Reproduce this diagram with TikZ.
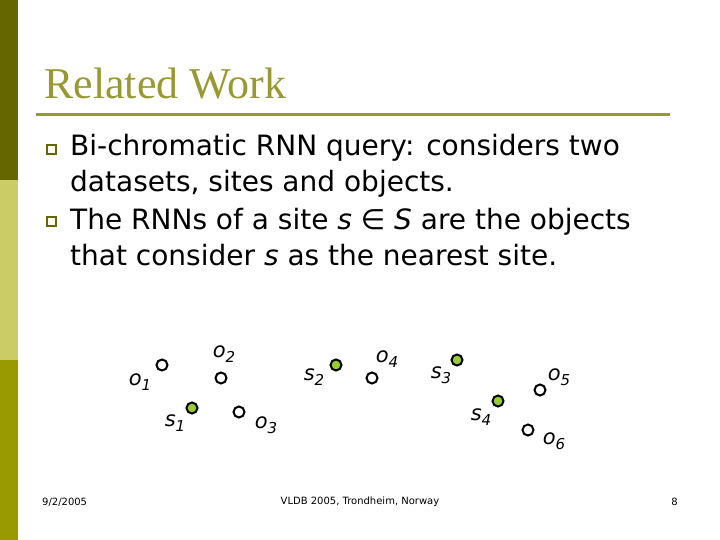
\documentclass[tikz,border=0pt]{standalone}
\usepackage{fontspec}
\setmainfont{DejaVu Sans}
\newfontfamily\titlefont{Liberation Serif}
\usepackage{tikz}

\definecolor{barDark}{HTML}{666600}
\definecolor{barLight}{HTML}{CCCC66}
\definecolor{barMid}{HTML}{999900}
\definecolor{titleCol}{HTML}{999933}
\definecolor{siteCol}{HTML}{99CC33}

\newcommand{\lsub}[1]{\raisebox{-0.4ex}{\fontsize{15}{15}\selectfont #1}}

\tikzset{
  obj/.style={draw, circle, line width=2pt, fill=white, minimum size=11pt, inner sep=0pt},
  site/.style={obj, fill=siteCol},
  lbl/.style={font=\fontsize{21}{21}\selectfont\itshape, inner sep=0pt},
  bullet/.style={draw=barDark, line width=2pt, minimum size=9pt, inner sep=0pt},
  body/.style={anchor=base west, align=left, inner sep=0pt, font=\fontsize{28}{36}\selectfont},
  foot/.style={font=\fontsize{10}{10}\selectfont, inner sep=0pt}
}

\begin{document}
\begin{tikzpicture}[x=1pt, y=-1pt]
\useasboundingbox (0,0) rectangle (720,540);

% 左侧色条
\fill[barDark] (0,0) rectangle (18,180);
\fill[barLight] (0,180) rectangle (18,360);
\fill[barMid] (0,360) rectangle (18,540);

% 标题
\node[anchor=base west, inner sep=0pt, text=titleCol, font=\titlefont\fontsize{44}{44}\selectfont] (title) at (44,99) {Related Work};
\draw[titleCol, line width=3pt] (36,115) -- (670,115);

% 正文
\node[bullet] (b1) at (51,149.5) {};
\node[bullet] (b2) at (51,221.5) {};
\node[body] (t1) at (70,192) {Bi-chromatic RNN query: considers two\\datasets, sites and objects.};
\node[body] (t2) at (70,265.5) {The RNNs of a site \textit{s} ∈ \textit{S} are the objects\\that consider \textit{s} as the nearest site.};

% 定义节点
\node[obj] (o1) at (162,365) {};
\node[obj] (o2) at (221,378) {};
\node[site] (s1) at (192,408) {};
\node[obj] (o3) at (239,412) {};
\node[site] (s2) at (336,365) {};
\node[obj] (o4) at (372,378) {};
\node[site] (s3) at (457,360) {};
\node[site] (s4) at (498,401) {};
\node[obj] (o5) at (540,390) {};
\node[obj] (o6) at (528,430) {};

% 标签
\node[lbl] (lo1) at (140,382) {o\lsub{1}};
\node[lbl] (lo2) at (224,354) {o\lsub{2}};
\node[lbl] (ls1) at (175,423) {s\lsub{1}};
\node[lbl] (lo3) at (266,425) {o\lsub{3}};
\node[lbl] (ls2) at (314,377) {s\lsub{2}};
\node[lbl] (lo4) at (387,359) {o\lsub{4}};
\node[lbl] (ls3) at (441,375) {s\lsub{3}};
\node[lbl] (ls4) at (481,417) {s\lsub{4}};
\node[lbl] (lo5) at (559,377) {o\lsub{5}};
\node[lbl] (lo6) at (554,441) {o\lsub{6}};

% 页脚
\node[foot, anchor=west] (date) at (42,502) {9/2/2005};
\node[foot] (conf) at (360,502) {VLDB 2005, Trondheim, Norway};
\node[foot, anchor=east] (page) at (678,502) {8};

\end{tikzpicture}
\end{document}
